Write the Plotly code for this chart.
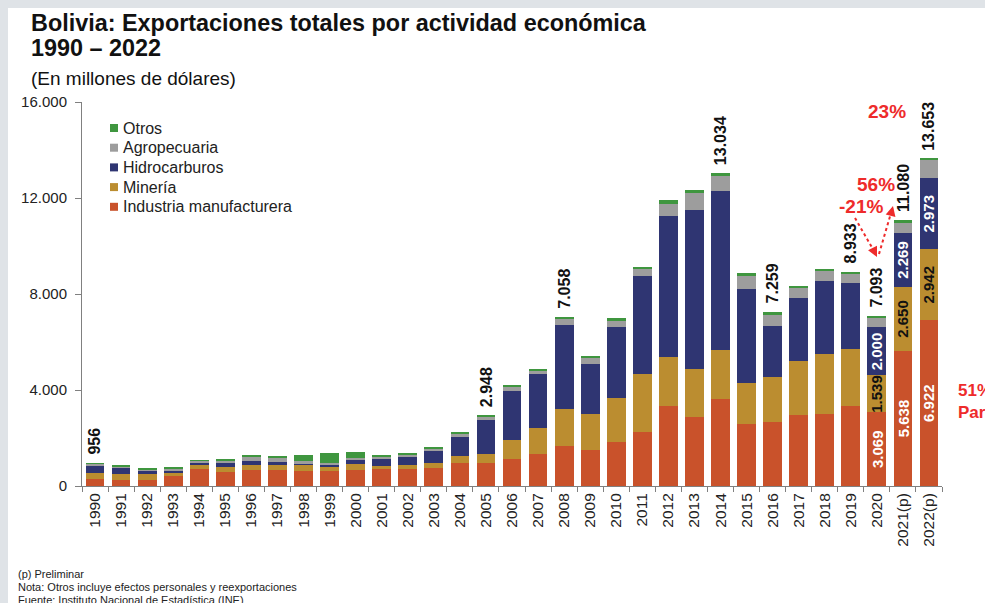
import plotly.graph_objects as go

# Exportaciones de Bolivia por actividad económica (millones de USD)
years = ["1990", "1991", "1992", "1993", "1994", "1995", "1996", "1997", "1998",
         "1999", "2000", "2001", "2002", "2003", "2004", "2005", "2006", "2007",
         "2008", "2009", "2010", "2011", "2012", "2013", "2014", "2015", "2016",
         "2017", "2018", "2019", "2020", "2021(p)", "2022(p)"]

manufactura = [290, 240, 265, 400, 700, 580, 655, 650, 625, 610, 680, 690, 720, 750,
               945, 950, 1140, 1350, 1670, 1515, 1850, 2250, 3335, 2890, 3640, 2570,
               2650, 2950, 2980, 3330, 3069, 5638, 6922]
mineria = [265, 240, 250, 170, 165, 230, 210, 235, 235, 220, 235, 125, 165, 220,
           305, 375, 790, 1055, 1540, 1470, 1835, 2430, 2055, 1970, 2015, 1735,
           1880, 2250, 2530, 2365, 1539, 2650, 2942]
hidrocarburos = [280, 250, 140, 70, 90, 150, 195, 100, 90, 75, 165, 290, 335, 485,
                 790, 1415, 2030, 2250, 3490, 2110, 2960, 4070, 5860, 6625, 6620,
                 3915, 2140, 2640, 3030, 2750, 2000, 2269, 2973]
agropecuaria = [100, 100, 45, 100, 100, 120, 150, 200, 75, 70, 90, 95, 100, 125,
                140, 165, 150, 165, 270, 250, 265, 305, 515, 735, 640, 530, 445,
                400, 420, 390, 415, 440, 730]
otros = [21, 19, 10, 15, 20, 21, 55, 35, 280, 415, 235, 110, 30, 45, 40, 43, 110,
         45, 88, 70, 70, 70, 140, 100, 119, 140, 144, 95, 70, 98, 70, 83, 86]

total_label_years = ["1990", "2005", "2008", "2014", "2016", "2019", "2020",
                     "2021(p)", "2022(p)"]
detail_years = ["2020", "2021(p)", "2022(p)"]

y_ticks = [0, 4000, 8000, 12000, 16000]

series = [
    ("Industria manufacturera", manufactura, "#c9522b"),
    ("Minería", mineria, "#bb8d30"),
    ("Hidrocarburos", hidrocarburos, "#2f3572"),
    ("Agropecuaria", agropecuaria, "#9d9d9d"),
    ("Otros", otros, "#3f963f"),
]

totals = [sum(v) for v in zip(manufactura, mineria, hidrocarburos, agropecuaria, otros)]


def fmt(v):
    return f"{v:,}".replace(",", ".")


# page geometry (pixels)
W, H = 985, 603
ML, MR, MT, MB = 82, 43, 102, 117
PW, PH = W - ML - MR, H - MT - MB


def fx(x):
    return (x - ML) / PW


def fy(y):
    return (H - MB - y) / PH


FONT = "Liberation Sans, Arial, sans-serif"
RED = "#ee2b2b"

fig = go.Figure()
for name, vals, color in series:
    fig.add_trace(go.Bar(x=years, y=vals, name=name, marker_color=color,
                         marker_line_width=0, hoverinfo="x+y+name", showlegend=False))

annotations = []
shapes = [
    # white panel over the grey frame
    dict(type="rect", xref="paper", yref="paper", x0=fx(8), x1=fx(W + 20), y0=fy(H + 20),
         y1=fy(8), fillcolor="white", line_width=0, layer="below"),
]

# compact key in the upper-left corner (top entry = last stacked series)
for row, (name, vals, color) in enumerate(reversed(series)):
    yc = 128 + row * 19.7
    shapes.append(dict(type="rect", xref="paper", yref="paper", x0=fx(110), x1=fx(118),
                       y0=fy(yc + 4), y1=fy(yc - 4), fillcolor=color, line_width=0))
    annotations.append(dict(x=fx(121), y=fy(yc), xref="paper", yref="paper", xanchor="left",
                            yanchor="middle", text=name, showarrow=False,
                            font=dict(family=FONT, size=16, color="#222222")))

# totals above selected bars (x given as category index)
for yr in total_label_years:
    i = years.index(yr)
    annotations.append(dict(x=i, y=totals[i], xref="x", yref="y", text=f"<b>{fmt(totals[i])}</b>",
                            textangle=-90, showarrow=False, yanchor="bottom", yshift=6,
                            font=dict(family=FONT, size=16, color="#111111")))

# segment values inside the last bars
for yr in detail_years:
    i = years.index(yr)
    base = 0
    for vals, col in ((manufactura, "white"), (mineria, "#111111"), (hidrocarburos, "white")):
        annotations.append(dict(x=i, y=base + vals[i] / 2, xref="x", yref="y",
                                text=f"<b>{fmt(vals[i])}</b>", textangle=-90, showarrow=False,
                                font=dict(family=FONT, size=15, color=col)))
        base += vals[i]

# title block
annotations += [
    dict(x=fx(29), y=fy(23), xref="paper", yref="paper", xanchor="left", yanchor="middle",
         text="<b>Bolivia: Exportaciones totales por actividad económica</b>", showarrow=False,
         font=dict(family=FONT, size=23.4, color="#111111")),
    dict(x=fx(29), y=fy(48), xref="paper", yref="paper", xanchor="left", yanchor="middle",
         text="<b>1990 – 2022</b>", showarrow=False,
         font=dict(family=FONT, size=23.4, color="#111111")),
    dict(x=fx(29), y=fy(78), xref="paper", yref="paper", xanchor="left", yanchor="middle",
         text="(En millones de dólares)", showarrow=False,
         font=dict(family=FONT, size=19, color="#111111")),
]

# growth rates
for txt, xc, yc in (("23%", 887, 112), ("56%", 876, 184), ("-21%", 861, 206)):
    annotations.append(dict(x=fx(xc), y=fy(yc), xref="paper", yref="paper", xanchor="center",
                            yanchor="middle", text=f"<b>{txt}</b>",
                            showarrow=False, font=dict(family=FONT, size=19, color=RED)))
annotations.append(dict(x=fx(956), y=fy(401), xref="paper", yref="paper", xanchor="left",
                        yanchor="middle", align="left", text="<b>51%<br>Participación</b>",
                        showarrow=False, font=dict(family=FONT, size=17, color=RED)))

# arrowheads for the dotted arrows
annotations += [
    dict(x=fx(877), y=fy(257), xref="paper", yref="paper", ax=-4, ay=-8, text="",
         showarrow=True, arrowhead=2, arrowsize=1, arrowwidth=2, arrowcolor=RED),
    dict(x=fx(893), y=fy(206), xref="paper", yref="paper", ax=-2, ay=8, text="",
         showarrow=True, arrowhead=2, arrowsize=1, arrowwidth=2, arrowcolor=RED),
]
shapes += [
    dict(type="line", xref="paper", yref="paper", x0=fx(855), y0=fy(218), x1=fx(874),
         y1=fy(251), line=dict(color=RED, width=2, dash="dot")),
    dict(type="line", xref="paper", yref="paper", x0=fx(879), y0=fy(254), x1=fx(891),
         y1=fy(213), line=dict(color=RED, width=2, dash="dot")),
]

# footnotes
for txt, yc in (("(p) Preliminar", 574),
                ("Nota: Otros incluye efectos personales y reexportaciones", 587),
                ("Fuente: Instituto Nacional de Estadística (INE)", 600)):
    annotations.append(dict(x=fx(16), y=fy(yc), xref="paper", yref="paper", xanchor="left",
                            yanchor="middle", text=txt, showarrow=False,
                            font=dict(family=FONT, size=11, color="#222222")))

fig.update_layout(
    width=W, height=H,
    margin=dict(l=ML, r=MR, t=MT, b=MB, pad=0),
    paper_bgcolor="#dfe3e7",
    plot_bgcolor="rgba(0,0,0,0)",
    barmode="stack",
    bargap=0.28,
    font=dict(family=FONT, color="#222222"),
    showlegend=False,
    annotations=annotations,
    shapes=shapes,
    xaxis=dict(type="category", categoryorder="array", categoryarray=years,
               range=[-0.5, len(years) - 0.5],
               tickangle=-90, ticks="outside", ticklen=5, tickcolor="#808080",
               tickson="boundaries", showline=True, linecolor="#808080", linewidth=1,
               showgrid=False, tickfont=dict(family=FONT, size=15.5, color="#222222"),
               fixedrange=True),
    yaxis=dict(range=[0, 16000], tickvals=y_ticks, ticktext=[fmt(v) for v in y_ticks],
               ticks="outside", ticklen=6, tickcolor="#808080", showline=True,
               linecolor="#808080", linewidth=1, showgrid=False, zeroline=False,
               ticklabelstandoff=5,
               tickfont=dict(family=FONT, size=15, color="#222222"), fixedrange=True),
)

fig.write_html("out.html")
